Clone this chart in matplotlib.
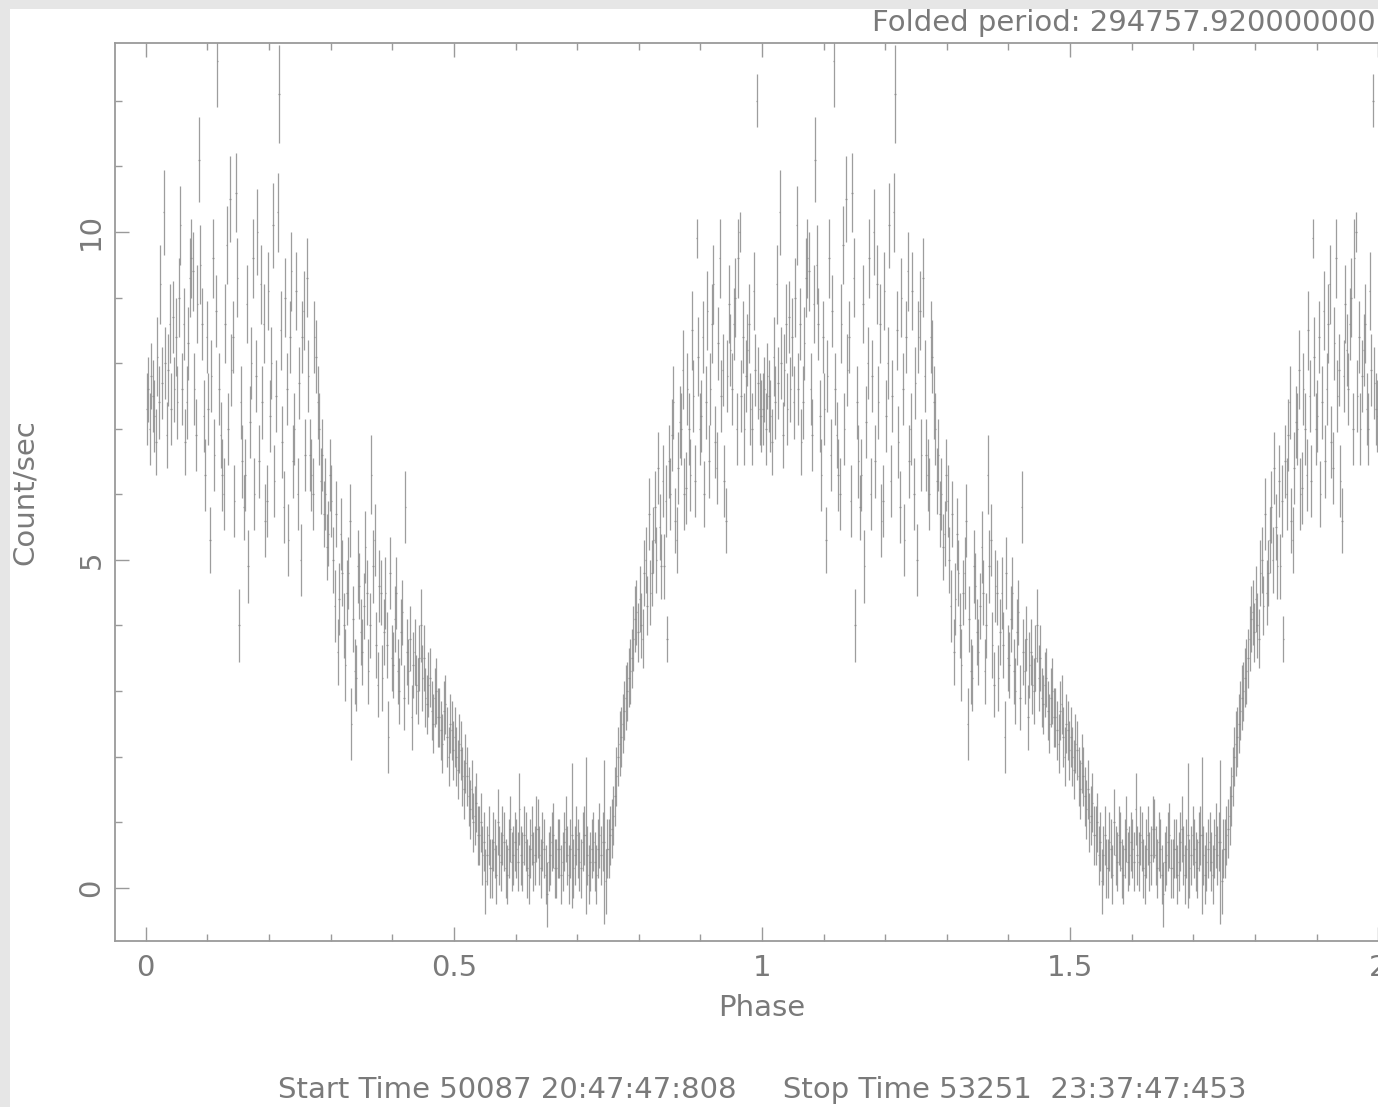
import numpy as np
import matplotlib
matplotlib.use("Agg")
import matplotlib.pyplot as plt
from matplotlib.patches import Rectangle
from matplotlib.ticker import MultipleLocator

# ---------------- data (one folded cycle, bin width 0.0025 in phase) ----------------
bin_width = 0.0025
rate = [
    7.3, 7.6, 7.0, 7.8, 7.5, 7.2, 6.8, 8.1, 7.4, 9.2,        # 0.000
    7.7, 10.3, 8.0, 6.9, 7.9, 8.6, 7.3, 8.7, 7.6, 8.4,       # 0.025
    7.4, 9.0, 10.1, 7.6, 8.6, 6.8, 7.4, 8.3, 9.3, 9.6,       # 0.050
    9.4, 7.6, 6.9, 8.9, 11.1, 9.5, 8.6, 7.2, 6.3, 8.4,       # 0.075
    7.3, 5.3, 7.8, 9.6, 6.6, 8.8, 12.6, 7.6, 6.9, 6.3,       # 0.100
    6.0, 8.6, 9.8, 7.0, 10.5, 7.9, 8.4, 5.9, 10.6, 9.3,      # 0.125
    4.0, 7.4, 6.5, 5.8, 6.3, 8.9, 4.9, 7.1, 8.0, 9.6,        # 0.150
    6.0, 7.8, 10.0, 6.5, 9.2, 7.4, 8.6, 5.6, 5.9, 9.1,       # 0.175
    7.2, 8.0, 10.1, 6.2, 7.5, 10.3, 12.1, 8.5, 6.8, 5.8,     # 0.200
    9.0, 7.6, 5.3, 8.4, 9.4, 6.5, 7.0, 9.1, 6.0, 7.7,        # 0.225
    5.0, 8.4, 8.8, 6.6, 9.3, 7.8, 6.6, 6.3, 6.0, 8.4,        # 0.250
    8.1, 7.4, 7.0, 6.2, 6.6, 5.7, 6.0, 5.2, 5.4, 6.3,        # 0.275
    5.9, 5.0, 4.3, 5.7, 3.6, 4.4, 5.4, 4.8, 4.0, 3.4,        # 0.300
    4.5, 4.8, 5.6, 2.5, 4.1, 3.3, 3.2, 4.9, 4.6, 3.9,        # 0.325
    3.6, 4.3, 5.2, 4.5, 3.3, 4.0, 6.3, 4.9, 5.3, 3.7,        # 0.350
    3.1, 4.6, 4.5, 3.2, 3.9, 4.5, 3.7, 2.3, 4.8, 3.5,        # 0.375
    3.4, 4.1, 4.5, 3.3, 3.0, 3.9, 4.2, 2.9, 5.8, 3.6,        # 0.400
    3.3, 3.8, 2.6, 3.4, 3.6, 3.1, 3.0, 3.5, 4.0, 3.2,        # 0.425
    3.5, 2.9, 2.8, 3.1, 3.2, 2.7, 2.5, 2.9, 3.0, 2.6,        # 0.450
    2.6, 2.4, 2.2, 2.7, 2.8, 2.3, 2.0, 2.5, 2.4, 2.1,        # 0.475
    2.3, 2.0, 1.8, 2.2, 2.1, 1.7, 1.5, 1.9, 1.7, 1.4,        # 0.500
    1.2, 1.5, 1.0, 1.1, 1.3, 0.8, 0.8, 1.0, 0.5, 0.7,        # 0.525
    0.1, 0.5, 0.8, 0.3, 0.3, 0.7, 0.6, 0.2, 1.0, 0.5,        # 0.550
    0.4, 0.8, 0.7, 0.3, 0.2, 0.6, 0.9, 0.4, 0.5, 0.7,        # 0.575
    0.6, 0.4, 1.2, 0.5, 0.4, 0.8, 0.7, 0.3, 0.2, 0.6,        # 0.600
    0.8, 0.4, 0.5, 0.9, 0.9, 0.5, 0.3, 0.7, 0.6, 0.2,        # 0.625
    -0.1, 0.4, 0.5, 0.7, 0.8, 0.3, 0.3, 0.6, 0.6, 0.2,       # 0.650
    0.4, 0.7, 0.9, 0.5, 0.2, 0.6, 0.8, 0.3, 0.5, 0.8,        # 0.675
    0.6, 0.4, 0.3, 0.7, 0.8, 0.8, 0.5, 0.2, 0.4, 0.6,        # 0.700
    0.7, 0.4, 0.2, 0.6, 0.8, 0.5, 0.7, 0.7, 0.1, 0.6,        # 0.725
    0.6, 0.8, 0.9, 1.1, 1.4, 1.7, 2.0, 2.2, 2.3, 2.5,        # 0.750
    2.7, 2.9, 3.0, 3.2, 3.3, 3.5, 3.8, 4.1, 4.2, 3.9,        # 0.775
    4.4, 4.0, 3.8, 4.8, 5.0, 4.3, 5.7, 4.5, 4.8, 5.3,        # 0.800
    5.8, 5.0, 6.4, 5.5, 4.9, 6.2, 4.9, 5.9, 3.8, 6.5,        # 0.825
    6.0, 6.9, 7.4, 5.6, 5.3, 6.4, 7.1, 7.0, 7.9, 6.0,        # 0.850
    6.1, 7.6, 7.0, 6.3, 8.5, 7.5, 6.2, 9.9, 8.1, 7.0,        # 0.875
    7.2, 8.4, 6.0, 7.4, 8.8, 6.5, 7.6, 8.6, 9.2, 6.8,        # 0.900
    6.4, 8.3, 9.6, 7.5, 7.9, 6.2, 5.6, 7.8, 8.9, 8.2,        # 0.925
    7.6, 8.6, 9.0, 7.0, 9.6, 10.0, 7.5, 8.4, 7.0, 7.8,       # 0.950
    8.2, 8.6, 7.3, 7.0, 9.1, 7.9, 12.0, 7.7, 7.3, 7.2,       # 0.975
]
rate_err = [
    0.55, 0.50, 0.55, 0.50, 0.55, 0.55, 0.50, 0.60, 0.55, 0.60,   # 0.000
    0.55, 0.65, 0.55, 0.50, 0.55, 0.60, 0.55, 0.55, 0.50, 0.60,   # 0.025
    0.55, 0.60, 0.60, 0.55, 0.55, 0.50, 0.55, 0.55, 0.60, 0.60,   # 0.050
    0.60, 0.55, 0.55, 0.60, 0.65, 0.60, 0.55, 0.55, 0.55, 0.55,   # 0.075
    0.55, 0.50, 0.55, 0.60, 0.55, 0.55, 0.70, 0.55, 0.50, 0.55,   # 0.100
    0.55, 0.60, 0.60, 0.55, 0.65, 0.55, 0.55, 0.55, 0.60, 0.60,   # 0.125
    0.55, 0.55, 0.55, 0.50, 0.55, 0.60, 0.55, 0.55, 0.55, 0.60,   # 0.150
    0.55, 0.55, 0.65, 0.55, 0.60, 0.55, 0.60, 0.55, 0.55, 0.60,   # 0.175
    0.55, 0.55, 0.65, 0.55, 0.55, 0.60, 0.75, 0.60, 0.55, 0.55,   # 0.200
    0.60, 0.55, 0.55, 0.55, 0.60, 0.55, 0.55, 0.60, 0.55, 0.55,   # 0.225
    0.55, 0.55, 0.60, 0.55, 0.60, 0.55, 0.55, 0.55, 0.55, 0.55,   # 0.250
    0.55, 0.55, 0.55, 0.50, 0.55, 0.50, 0.55, 0.50, 0.50, 0.55,   # 0.275
    0.55, 0.50, 0.55, 0.50, 0.50, 0.55, 0.55, 0.50, 0.50, 0.55,   # 0.300
    0.50, 0.55, 0.55, 0.55, 0.50, 0.50, 0.50, 0.55, 0.50, 0.50,   # 0.325
    0.50, 0.50, 0.55, 0.50, 0.50, 0.50, 0.60, 0.55, 0.55, 0.50,   # 0.350
    0.50, 0.55, 0.50, 0.50, 0.50, 0.55, 0.50, 0.55, 0.55, 0.50,   # 0.375
    0.50, 0.50, 0.55, 0.50, 0.50, 0.50, 0.50, 0.50, 0.55, 0.50,   # 0.400
    0.50, 0.50, 0.50, 0.50, 0.50, 0.45, 0.50, 0.50, 0.55, 0.50,   # 0.425
    0.50, 0.45, 0.45, 0.50, 0.45, 0.45, 0.45, 0.45, 0.50, 0.45,   # 0.450
    0.45, 0.45, 0.45, 0.45, 0.45, 0.45, 0.45, 0.45, 0.45, 0.45,   # 0.475
    0.45, 0.45, 0.45, 0.45, 0.45, 0.45, 0.45, 0.45, 0.45, 0.45,   # 0.500
    0.45, 0.45, 0.45, 0.45, 0.45, 0.45, 0.45, 0.45, 0.45, 0.45,   # 0.525
    0.50, 0.45, 0.45, 0.45, 0.45, 0.45, 0.45, 0.45, 0.50, 0.45,   # 0.550
    0.45, 0.45, 0.45, 0.45, 0.45, 0.45, 0.50, 0.45, 0.45, 0.45,   # 0.575
    0.45, 0.45, 0.55, 0.45, 0.45, 0.45, 0.45, 0.45, 0.45, 0.45,   # 0.600
    0.45, 0.45, 0.45, 0.50, 0.45, 0.45, 0.45, 0.45, 0.45, 0.45,   # 0.625
    0.50, 0.45, 0.45, 0.45, 0.50, 0.45, 0.45, 0.45, 0.45, 0.45,   # 0.650
    0.45, 0.45, 0.50, 0.45, 0.45, 0.45, 1.10, 0.45, 0.45, 0.45,   # 0.675
    0.45, 0.45, 0.45, 0.45, 0.45, 1.20, 0.45, 0.45, 0.45, 0.45,   # 0.700
    0.45, 0.45, 0.45, 0.45, 0.50, 0.45, 0.45, 1.25, 0.50, 0.45,   # 0.725
    0.45, 0.45, 0.45, 0.45, 0.45, 0.45, 0.45, 0.50, 0.45, 0.45,   # 0.750
    0.45, 0.50, 0.45, 0.45, 0.50, 0.45, 0.50, 0.50, 0.50, 0.45,   # 0.775
    0.50, 0.50, 0.45, 0.50, 0.50, 0.45, 0.55, 0.50, 0.50, 0.50,   # 0.800
    0.55, 0.50, 0.55, 0.50, 0.50, 0.55, 0.50, 0.55, 0.35, 0.55,   # 0.825
    0.55, 0.55, 0.55, 0.50, 0.50, 0.55, 0.55, 0.55, 0.60, 0.55,   # 0.850
    0.55, 0.55, 0.55, 0.55, 0.60, 0.55, 0.55, 0.30, 0.60, 0.55,   # 0.875
    0.55, 0.55, 0.50, 0.55, 0.60, 0.55, 0.55, 0.60, 0.60, 0.55,   # 0.900
    0.55, 0.55, 0.60, 0.55, 0.55, 0.55, 0.50, 0.55, 0.60, 0.55,   # 0.925
    0.55, 0.55, 0.60, 0.55, 0.60, 0.30, 0.55, 0.55, 0.55, 0.55,   # 0.950
    0.55, 0.60, 0.55, 0.55, 0.60, 0.55, 0.40, 0.55, 0.55, 0.55,   # 0.975
]
n_cycles = 2

title_text = "Folded period: 294757.920000000"
xlabel_text = "Phase"
ylabel_text = "Count/sec"
footer_text = "Start Time 50087 20:47:47:808     Stop Time 53251  23:37:47:453"

# ---------------- figure ----------------
W, H = 1378, 1107
fig = plt.figure(figsize=(W / 100, H / 100), dpi=100)
fig.patch.set_facecolor("#e6e6e6")
fig.patches.append(Rectangle((10 / W, 0), 1, 1 - 9 / H, transform=fig.transFigure,
                             facecolor="white", edgecolor="none", zorder=-10))

plt.rcParams["font.family"] = ["DejaVu Sans"]
txt_color = "#7a7a7a"
axis_color = "#9a9a9a"
fs = 21

# axes extends beyond the right edge of the picture (as in the cropped reference)
ax_left, ax_right = 115, 1409
ax_top, ax_bottom = 43, 941
ax = fig.add_axes([ax_left / W, (H - ax_bottom) / H, (ax_right - ax_left) / W,
                   (ax_bottom - ax_top) / H])
ax.set_facecolor("none")
ax.set_zorder(5)

phase_one = (np.arange(len(rate)) + 0.5) * bin_width
rate_arr = np.array(rate)
err_arr = np.array(rate_err)
phase = np.concatenate([phase_one + k for k in range(n_cycles)])
values = np.tile(rate_arr, n_cycles)
errors = np.tile(err_arr, n_cycles)

ax.errorbar(phase, values, yerr=errors, xerr=bin_width / 2, fmt="none",
            ecolor="#8c8c8c", elinewidth=0.9, capsize=0, alpha=0.85)

ax.set_xlim(-0.05, 2.05)
ax.set_ylim(-0.81, 12.88)
ax.xaxis.set_minor_locator(MultipleLocator(0.1))
ax.yaxis.set_minor_locator(MultipleLocator(1))
ax.set_xticks([0, 0.5, 1, 1.5, 2])
ax.set_xticklabels(["0", "0.5", "1", "1.5", "2"])
ax.set_yticks([0, 5, 10])
ax.set_yticklabels(["0", "5", "10"])

for s in ax.spines.values():
    s.set_color(axis_color)
    s.set_linewidth(1.3)
ax.tick_params(which="both", direction="in", top=True, right=True, color=axis_color,
               width=1.0)
ax.tick_params(which="major", length=10)
ax.tick_params(which="minor", length=5)
ax.tick_params(axis="x", which="major", labelsize=fs, labelcolor=txt_color, pad=9)
ax.tick_params(axis="y", which="major", labelsize=fs, labelcolor=txt_color, pad=7,
               labelrotation=90)
for lab in ax.get_yticklabels():
    lab.set_verticalalignment("center")

fig.text(872 / W, 1 - 23 / H, title_text, ha="left", va="center", fontsize=fs,
         color=txt_color)
fig.text(762 / W, 1 - 1008 / H, xlabel_text, ha="center", va="center", fontsize=fs,
         color=txt_color)
fig.text(25 / W, 1 - 492 / H, ylabel_text, ha="center", va="center", fontsize=fs,
         color=txt_color, rotation=90)
fig.text(762 / W, 1 - 1090 / H, footer_text, ha="center", va="center", fontsize=fs,
         color=txt_color)

fig.savefig("out.png", dpi=100, facecolor=fig.get_facecolor())
